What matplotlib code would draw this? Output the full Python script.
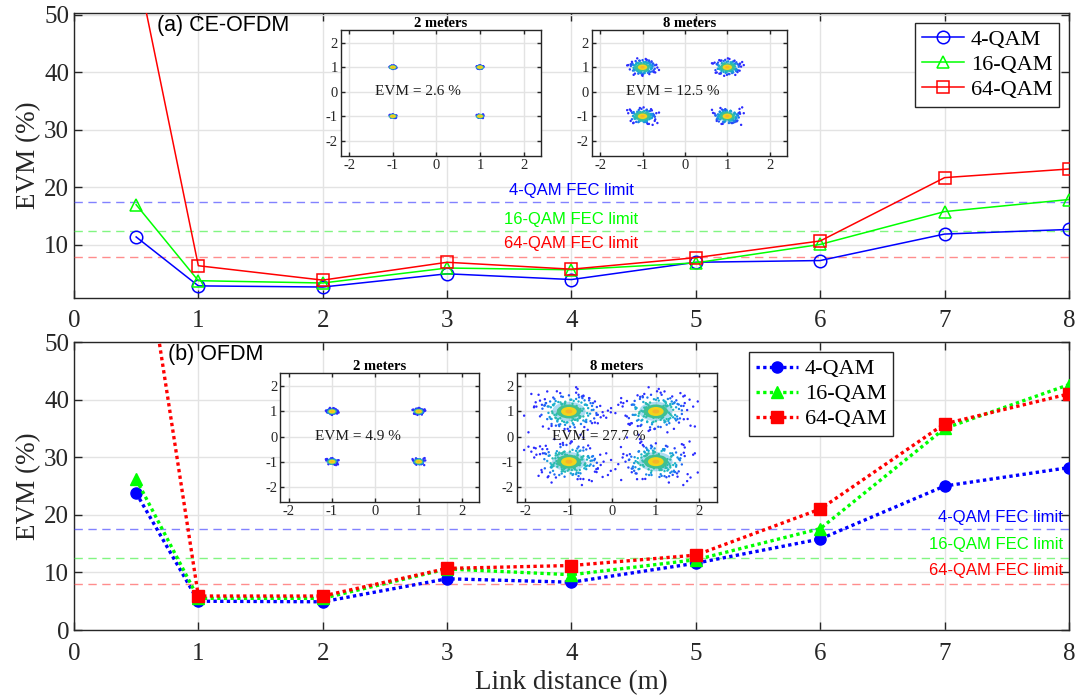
#!/usr/bin/env python

import numpy as np
import matplotlib.pyplot as plt
from matplotlib.patches import Ellipse
from matplotlib.colors import LinearSegmentedColormap

# ---- data ------------------------------------------------------------------
distance = [0.5, 1, 2, 3, 4, 5, 6, 7, 8]
qam_labels = ['4-QAM', '16-QAM', '64-QAM']

# (a) CE-OFDM, EVM in %
ce_4qam = [11.4, 2.9, 2.7, 5.0, 4.0, 7.0, 7.3, 11.9, 12.7]
ce_16qam = [17.0, 3.8, 3.4, 6.0, 5.7, 6.9, 10.1, 15.8, 17.9]
ce_64qam = [59.0, 6.4, 3.9, 7.0, 5.8, 7.8, 10.7, 21.7, 23.2]

# (b) OFDM, EVM in %
ofdm_4qam = [23.8, 5.0, 4.9, 8.9, 8.3, 11.6, 15.8, 25.0, 28.2]
ofdm_16qam = [26.2, 5.5, 5.5, 10.6, 9.6, 12.2, 17.6, 35.0, 42.6]
ofdm_64qam = [76.0, 5.9, 5.9, 10.7, 11.2, 13.0, 21.0, 35.8, 41.0]

fec_limits = [17.5, 12.5, 8.0]
fec_labels = ['4-QAM FEC limit', '16-QAM FEC limit', '64-QAM FEC limit']

# constellation insets
ideal_i = [-1, 1, -1, 1]
ideal_q = [1, 1, -1, -1]
inset_titles = ['2 meters', '8 meters']
ce_inset_evm = [2.6, 12.5]
ofdm_inset_evm = [4.9, 27.7]

# normalised scatter offsets of the received symbols around each ideal point
offset_i = [0.3, -0.8, 1.2, -1.5, 0.6, -0.2, 1.9, -1.1, 0.9, -0.5, 2.3, -2.0,
            0.1, 1.4, -0.9, 0.7, -1.7, 1.0, -0.3, 2.6, -2.4, 0.5, -1.3, 1.6,
            -0.6, 0.2, -1.9, 1.8, -0.1, 1.1, -2.2, 0.8, 2.1, -1.0, 0.4, -0.7,
            1.3, -1.6, 2.8, -2.7, 0.0, 1.5, -1.2, 0.6, -0.4, 2.0, -1.4, 0.9,
            -2.9, 1.7, -0.8, 0.3, 3.1, -0.6, 1.2, -1.8, 0.4, -0.2, 2.4, -1.0]
offset_q = [1.1, -0.4, -1.3, 0.6, 1.8, -1.6, 0.2, 1.5, -0.9, 2.1, -0.5, 0.9,
            -2.2, 1.0, -1.1, 0.3, -0.2, -1.8, 1.4, 0.8, -0.7, -1.2, 2.0, -0.6,
            0.5, 1.7, 1.2, -1.4, -2.5, 0.1, 0.4, 2.4, -1.0, -0.3, -1.9, 1.3,
            1.6, -0.8, -0.1, 0.7, -2.8, 0.9, -0.5, 2.7, -1.5, 1.2, 0.0, -0.7,
            0.6, 1.9, -2.1, 0.3, -0.9, 1.0, 2.2, -1.1, -0.4, 0.8, -1.7, 2.9]

# ---- style -----------------------------------------------------------------
plt.rcParams['font.family'] = ['Liberation Serif', 'DejaVu Serif']
plt.rcParams['axes.unicode_minus'] = False
SANS = ['Liberation Sans', 'DejaVu Sans']
AX_COLOR = '#262626'
GRID_COLOR = '#e3e3e3'
LINE_COLORS = ['#0000ff', '#00ff00', '#ff0000']

parula = LinearSegmentedColormap.from_list(
    'parula_like',
    ['#2b2bff', '#1a7cf0', '#18b8c8', '#6cc860', '#f0dc20', '#f8a828'])


def style_axes(ax, tick_size):
    ax.tick_params(direction='in', which='both', top=True, right=True,
                   length=6, width=1, color=AX_COLOR, labelsize=tick_size,
                   labelcolor=AX_COLOR)
    for spine in ax.spines.values():
        spine.set_color(AX_COLOR)
        spine.set_linewidth(1.0)
    ax.grid(True, color=GRID_COLOR, linewidth=1)
    ax.set_axisbelow(True)


def draw_constellation(ax, title, evm):
    sigma = evm / 100.0
    oi = np.array(offset_i)
    for k, (ci, cq) in enumerate(zip(ideal_i, ideal_q)):
        oq = np.roll(offset_q, 13 * k)
        # extra copies for the wider clouds
        xs = list(ci + sigma * oi)
        ys = list(cq + sigma * oq)
        if sigma > 0.1:
            xs += list(ci + sigma * 0.8 * np.roll(oq, 5))
            ys += list(cq - sigma * 0.8 * np.roll(oi, 3 + k))
        if sigma > 0.2:
            xs += list(ci - sigma * 1.2 * np.roll(oi, 7 + k))
            ys += list(cq + sigma * 1.2 * np.roll(oq, 17))
        xs = np.array(xs)
        ys = np.array(ys)
        r = np.hypot(xs - ci, ys - cq) / max(sigma, 1e-6)
        c = np.clip(1 - r / 2.6, 0, 0.45)
        ax.add_patch(Ellipse((ci, cq), 2.2 * sigma + 0.16, 2.2 * sigma + 0.16,
                             color='#30a8e0', alpha=0.4, lw=0, zorder=2))
        ax.scatter(xs, ys, s=3, c=c, cmap=parula, vmin=0, vmax=1,
                   linewidths=0, zorder=3)
        ax.add_patch(Ellipse((ci, cq), 1.5 * sigma + 0.14, 1.5 * sigma + 0.14,
                             color='#40c090', lw=0, zorder=4))
        ax.add_patch(Ellipse((ci, cq), 0.9 * sigma + 0.11, 0.9 * sigma + 0.11,
                             color='#f2d41c', lw=0, zorder=5))
        ax.add_patch(Ellipse((ci, cq), 0.4 * sigma + 0.05, 0.4 * sigma + 0.05,
                             color='#f6b42a', lw=0, zorder=6))
    ax.text(-1.4, 0, f'EVM = {evm} %', fontsize=11, va='center', ha='left',
            color='#1a1a1a', zorder=7)
    ax.set_title(title, fontsize=10.5, fontweight='bold', pad=1.5)
    ax.set_xlim(-2.2, 2.4)
    ax.set_ylim(-2.62, 2.52)
    ax.set_xticks([-2, -1, 0, 1, 2])
    ax.set_yticks([-2, -1, 0, 1, 2])
    style_axes(ax, 10.5)
    ax.tick_params(length=3, pad=2)


fig = plt.figure(figsize=(10.75, 6.97), dpi=100)
ax_a = fig.add_axes([0.0688, 0.5725, 0.9256, 0.4089])
ax_b = fig.add_axes([0.0688, 0.0961, 0.9256, 0.4132])

markers = ['o', '^', 's']

# (a) CE-OFDM
for series, lab, col, mk in zip([ce_4qam, ce_16qam, ce_64qam],
                                qam_labels, LINE_COLORS, markers):
    ax_a.plot(distance, series, color=col, lw=1.1, marker=mk, ms=9,
              mfc='none', mec=col, mew=1.1, label=lab, zorder=5)

# (b) OFDM
for series, lab, col, mk in zip([ofdm_4qam, ofdm_16qam, ofdm_64qam],
                                qam_labels, LINE_COLORS, markers):
    ax_b.plot(distance, series, color=col, lw=2.4, ls=(0, (1, 1)),
              marker=mk, ms=8, mfc=col, mec=col, label=lab, zorder=5)

fec_line_colors = ['#4040ff', '#40f040', '#ff5050']
for ax in (ax_a, ax_b):
    for lim, col in zip(fec_limits, fec_line_colors):
        ax.axhline(lim, color=col, lw=1, ls=(0, (6, 4)), alpha=0.65, zorder=3)

fec_text_y_a = [19.5, 14.5, 10.3]
for y, txt, col in zip(fec_text_y_a, fec_labels, LINE_COLORS):
    ax_a.text(4, y, txt, color=col, fontsize=12, family=SANS,
              ha='center', va='center')
fec_text_y_b = [19.6, 14.8, 10.4]
for y, txt, col in zip(fec_text_y_b, fec_labels, LINE_COLORS):
    ax_b.text(7.95, y, txt, color=col, fontsize=12, family=SANS,
              ha='right', va='center')

ax_a.set_xlim(0, 8)
ax_a.set_ylim(0.8, 50.3)
ax_a.set_yticks([10, 20, 30, 40, 50])
ax_b.set_xlim(0, 8)
ax_b.set_ylim(0, 50)
ax_b.set_yticks([0, 10, 20, 30, 40, 50])
for ax in (ax_a, ax_b):
    ax.set_xticks(range(0, 9))
    style_axes(ax, 18)
    ax.tick_params(axis='x', pad=9)
    ax.set_ylabel('EVM (%)', fontsize=19.5, color=AX_COLOR, labelpad=2)
ax_b.set_xlabel('Link distance (m)', fontsize=19.5, color=AX_COLOR,
                labelpad=4)

ax_a.text(0.083, 0.955, '(a) CE-OFDM', transform=ax_a.transAxes,
          fontsize=15.5, family=SANS, va='center', ha='left')
ax_b.text(0.095, 0.955, '(b) OFDM', transform=ax_b.transAxes,
          fontsize=15.5, family=SANS, va='center', ha='left')

leg_kw = dict(fontsize=16, fancybox=False, framealpha=1, edgecolor=AX_COLOR,
              handlelength=1.9, handletextpad=0.3, labelspacing=0.2,
              borderpad=0.3, borderaxespad=0, loc='upper right')
leg_a = ax_a.legend(bbox_to_anchor=(0.990, 0.965), **leg_kw)
leg_b = ax_b.legend(bbox_to_anchor=(0.823, 0.965), **leg_kw)
for leg in (leg_a, leg_b):
    leg.get_frame().set_linewidth(1.0)

# constellation insets
inset_pos_a = [[0.3169, 0.7762, 0.1863, 0.1808],
               [0.5504, 0.7762, 0.1814, 0.1808]]
inset_pos_b = [[0.2605, 0.2793, 0.1854, 0.1851],
               [0.4807, 0.2793, 0.1860, 0.1851]]
for pos, title, evm in zip(inset_pos_a, inset_titles, ce_inset_evm):
    draw_constellation(fig.add_axes(pos), title, evm)
for pos, title, evm in zip(inset_pos_b, inset_titles, ofdm_inset_evm):
    draw_constellation(fig.add_axes(pos), title, evm)

fig.savefig('out.png', dpi=100)
